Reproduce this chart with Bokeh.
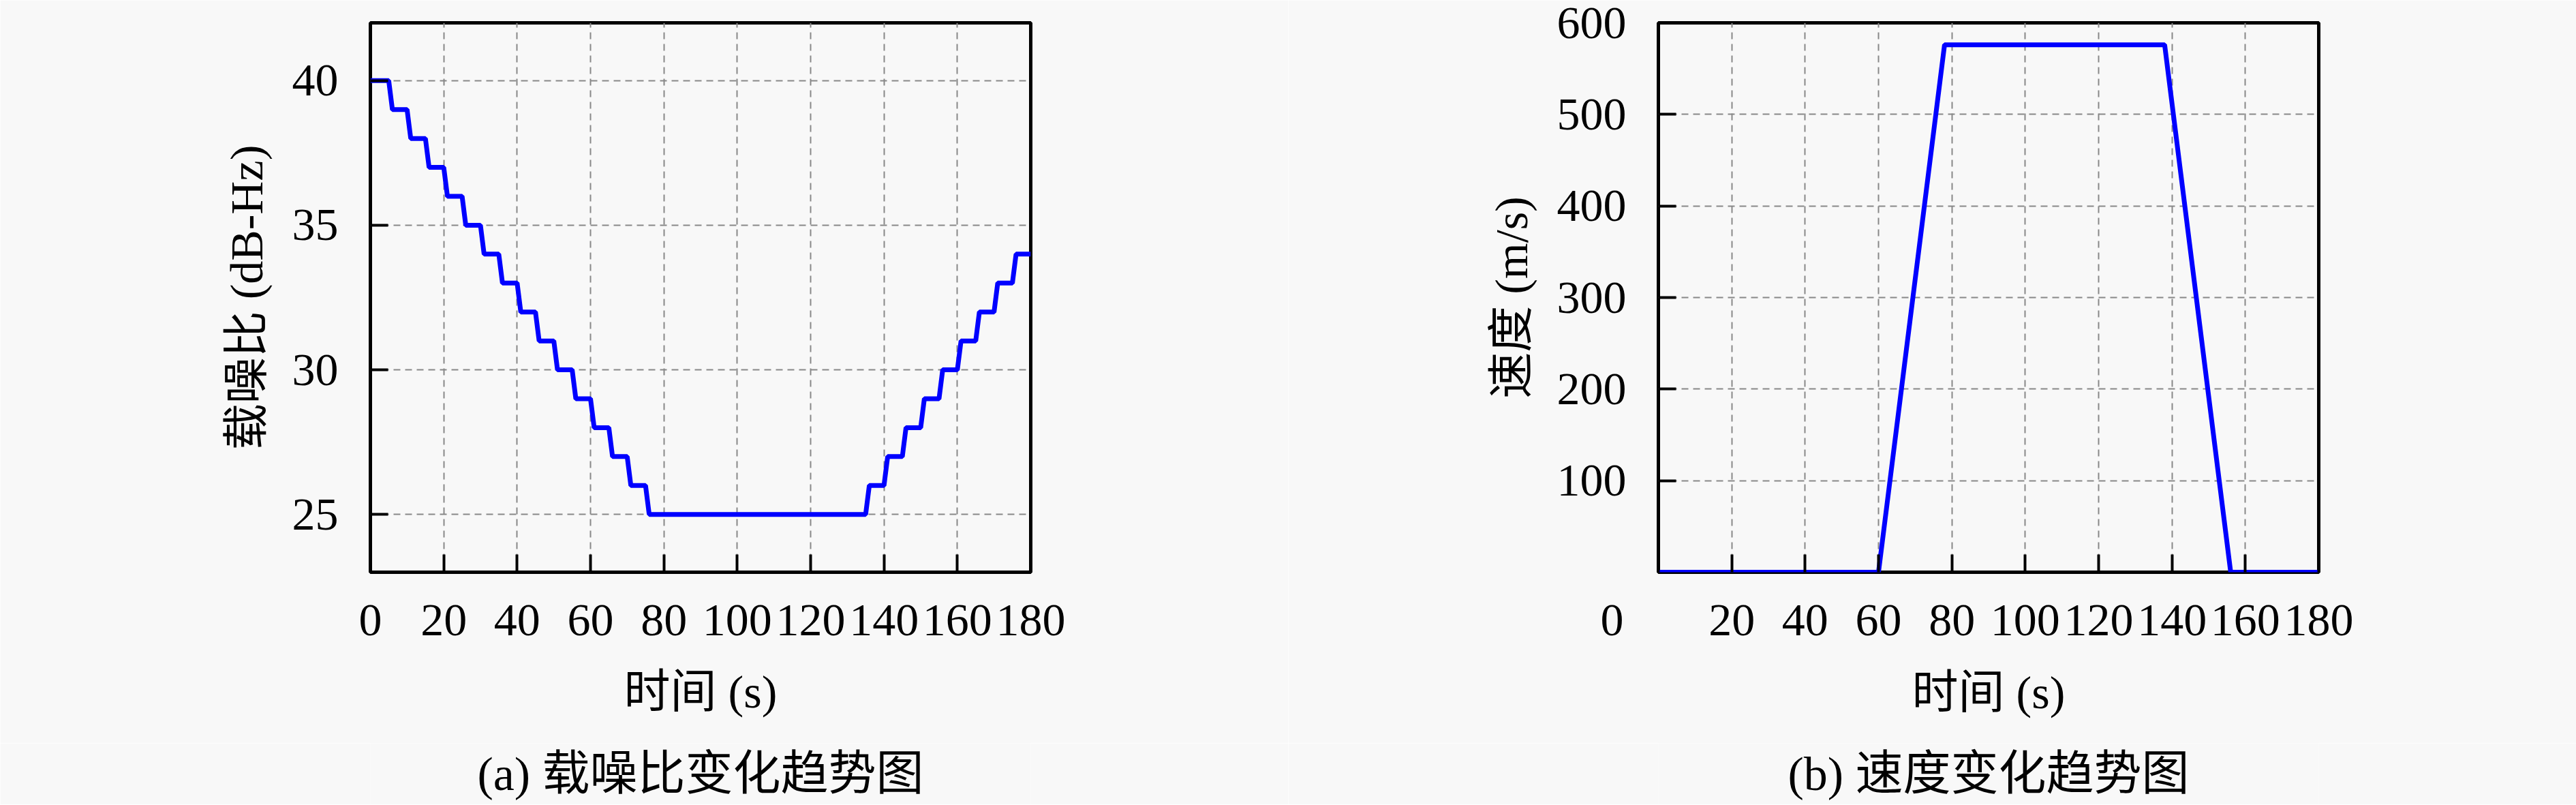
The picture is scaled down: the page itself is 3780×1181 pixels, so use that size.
from bokeh.plotting import figure
from bokeh.models import Range1d, FixedTicker
from bokeh.layouts import row, column
from bokeh.core.properties import value
from bokeh.embed import file_html
from bokeh.resources import INLINE

# ---- data ----
cnr_time = [0, 5, 6, 10, 11, 15, 16, 20, 21, 25, 26, 30, 31, 35, 36, 40, 41, 45,
            46, 50, 51, 55, 56, 60, 61, 65, 66, 70, 71, 75, 76, 135, 136, 140,
            141, 145, 146, 150, 151, 155, 156, 160, 161, 165, 166, 170, 171, 175,
            176, 180]
cnr_db = [40, 40, 39, 39, 38, 38, 37, 37, 36, 36, 35, 35, 34, 34, 33, 33, 32, 32,
          31, 31, 30, 30, 29, 29, 28, 28, 27, 27, 26, 26, 25, 25, 26, 26,
          27, 27, 28, 28, 29, 29, 30, 30, 31, 31, 32, 32, 33, 33, 34, 34]

speed_time = [0, 60, 78, 138, 156, 180]
speed_ms = [0, 0, 576, 576, 0, 0]

time_ticks = [0, 20, 40, 60, 80, 100, 120, 140, 160, 180]
cnr_ticks = [25, 30, 35, 40]
speed_ticks = [100, 200, 300, 400, 500, 600]

x_label = "时间 (s)"
y_label_a = "载噪比 (dB-Hz)"
y_label_b = "速度 (m/s)"
caption_a = "(a) 载噪比变化趋势图"
caption_b = "(b) 速度变化趋势图"

# ---- style ----
FONT = "'Liberation Serif', 'Noto Sans CJK SC'"
BG = "#f8f8f8"
FS = "68px"
BLUE = "#0000ff"
W = 1890
B_LEFT = 543
B_RIGHT = 378


def make_plot(y_rng, yt, ylabel, xs, ys):
    p = figure(width=W, height=1090, x_range=Range1d(0, 180),
               y_range=Range1d(*y_rng), output_backend="svg",
               toolbar_location=None,
               min_border_left=B_LEFT, min_border_right=B_RIGHT,
               min_border_top=33, min_border_bottom=251)
    p.background_fill_color = BG
    p.border_fill_color = BG
    p.outline_line_color = "black"
    p.outline_line_width = 5

    p.xaxis.ticker = FixedTicker(ticks=time_ticks)
    p.yaxis.ticker = FixedTicker(ticks=yt)
    p.xgrid.ticker = FixedTicker(ticks=time_ticks)
    p.ygrid.ticker = FixedTicker(ticks=yt)

    for ax in (p.xaxis, p.yaxis):
        ax.axis_line_color = None
        ax.major_tick_in = 26
        ax.major_tick_out = 0
        ax.major_tick_line_width = 4
        ax.major_tick_line_color = "black"
        ax.minor_tick_line_color = None
        ax.major_label_text_font = FONT
        ax.major_label_text_font_size = FS
        ax.major_label_text_color = "black"
        ax.axis_label_text_font = FONT
        ax.axis_label_text_font_size = FS
        ax.axis_label_text_font_style = "normal"
        ax.axis_label_text_color = "black"
    p.xaxis.major_label_standoff = 48
    p.yaxis.major_label_standoff = 47
    p.xaxis.axis_label = x_label
    p.yaxis.axis_label = ylabel
    p.xaxis.axis_label_standoff = 42
    p.yaxis.axis_label_standoff = 26

    for g in (p.xgrid, p.ygrid):
        g.grid_line_color = "#888888"
        g.grid_line_dash = "10 7"
        g.grid_line_width = 2

    p.line(xs, ys, line_color=BLUE, line_width=7)
    return p


def make_caption(text):
    c = figure(width=W, height=90, x_range=Range1d(0, 180),
               y_range=Range1d(0, 1), output_backend="svg",
               toolbar_location=None,
               min_border_left=B_LEFT, min_border_right=B_RIGHT,
               min_border_top=0, min_border_bottom=0)
    c.axis.visible = False
    c.grid.visible = False
    c.outline_line_color = None
    c.background_fill_color = BG
    c.border_fill_color = BG
    c.text(x=[90], y=[0.5], text=[text], text_align="center",
           text_baseline="middle", text_font=value(FONT),
           text_font_size="70px", text_color="black")
    return c


pa = make_plot((23, 42), cnr_ticks, y_label_a, cnr_time, cnr_db)
pb = make_plot((0, 600), speed_ticks, y_label_b, speed_time, speed_ms)
# the "0" of the speed plot sits left of the frame corner, as in the reference
pb.xaxis.major_label_overrides = {0: "0" + "\u00a0" * 8}
pb.xaxis.major_label_standoff = 31
pb.xaxis.axis_label_standoff = 28

ca = make_caption(caption_a)
cb = make_caption(caption_b)

layout = column(row(pa, pb), row(ca, cb))
open("out.html", "w").write(file_html(layout, INLINE))
